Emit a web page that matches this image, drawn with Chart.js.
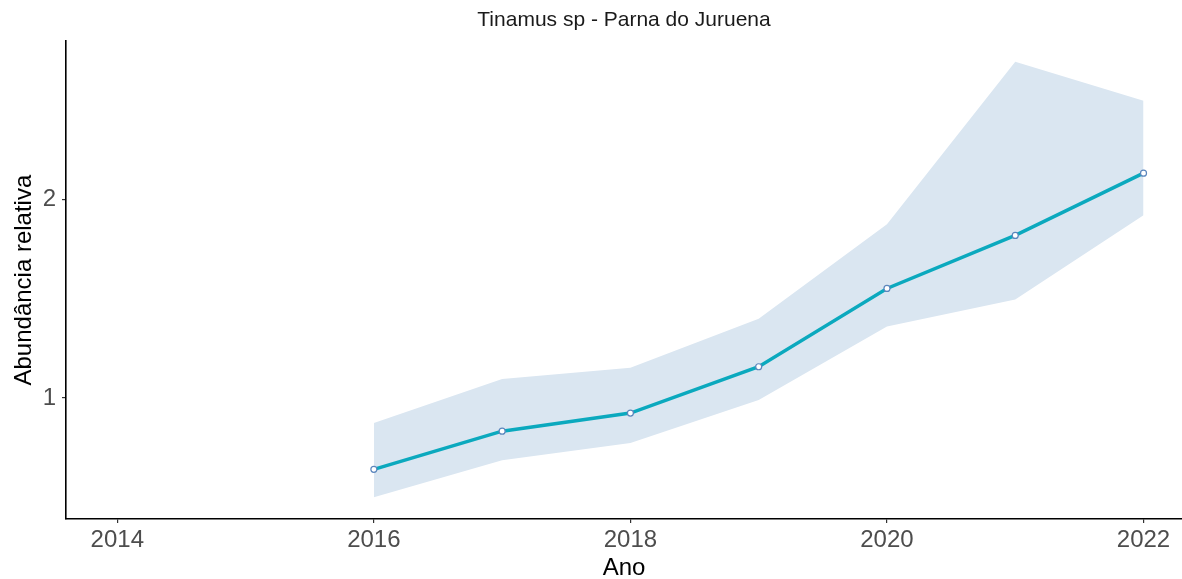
<!DOCTYPE html>
<html>
<head>
<meta charset="utf-8">
<script src="https://cdn.jsdelivr.net/npm/chart.js@4"></script>
<style>
  body { margin: 0; background: #fff; }
  #wrap { width: 1182px; height: 579px; }
</style>
</head>
<body>
<div id="wrap"><canvas id="myChart"></canvas></div>
<script>
const years = [2016, 2017, 2018, 2019, 2020, 2021, 2022];
const abundance = [0.641, 0.833, 0.924, 1.157, 1.551, 1.818, 2.131];
const upper = [0.874, 1.096, 1.152, 1.399, 1.874, 2.692, 2.495];
const lower = [0.500, 0.687, 0.773, 0.990, 1.359, 1.495, 1.919];
const xTicks = [2014, 2016, 2018, 2020, 2022];
const yTicks = [1, 2];

const toPoints = (vals) => years.map((y, i) => ({ x: y, y: vals[i] }));

const ctx = document.querySelector('#myChart').getContext('2d');
const font = 'Liberation Sans, Arial, sans-serif';

let config = {
    type: 'line',
    data: {
        datasets: [
            {
                label: 'lower',
                data: toPoints(lower),
                borderWidth: 0,
                pointRadius: 0,
                fill: false,
                order: 2
            },
            {
                label: 'upper',
                data: toPoints(upper),
                borderWidth: 0,
                pointRadius: 0,
                backgroundColor: '#dae6f1',
                fill: '-1',
                order: 2
            },
            {
                label: 'Abundância relativa',
                data: toPoints(abundance),
                borderColor: '#0ba9be',
                borderWidth: 3.5,
                pointRadius: 3,
                pointBorderWidth: 1.2,
                pointBackgroundColor: '#ffffff',
                pointBorderColor: '#5b86bd',
                fill: false,
                clip: false,
                order: 0
            }
        ]
    },
    options: {
        responsive: true,
        maintainAspectRatio: false,
        animation: false,
        layout: { padding: 0, autoPadding: false },
        plugins: {
            legend: { display: false },
            tooltip: { enabled: false },
            title: {
                display: true,
                text: 'Tinamus sp - Parna do Juruena',
                fullSize: false,
                color: '#1a1a1a',
                font: { family: font, size: 21, weight: 'normal' },
                padding: { top: 8, bottom: 8 }
            }
        },
        scales: {
            x: {
                type: 'linear',
                min: 2013.6,
                max: 2022.3,
                afterBuildTicks: (scale) => { scale.ticks = xTicks.map(v => ({ value: v })); },
                afterFit: (scale) => {
                    scale.height = 60;
                    scale.paddingLeft = 0;
                    scale.paddingRight = 0;
                },
                border: { display: true, color: '#000', width: 1.6 },
                grid: { drawOnChartArea: false, drawTicks: true, tickLength: 4, color: '#333', lineWidth: 1.2 },
                ticks: {
                    color: '#4d4d4d',
                    font: { family: font, size: 24 },
                    padding: 3,
                    maxRotation: 0,
                    callback: (v) => String(v)
                },
                title: {
                    display: true,
                    text: 'Ano',
                    color: '#000',
                    font: { family: font, size: 24 },
                    padding: { top: 0, bottom: -4 }
                }
            },
            y: {
                type: 'linear',
                min: 0.391,
                max: 2.795,
                afterBuildTicks: (scale) => { scale.ticks = yTicks.map(v => ({ value: v })); },
                afterFit: (scale) => {
                    scale.width = 66;
                    scale.paddingTop = 0;
                    scale.paddingBottom = 0;
                },
                border: { display: true, color: '#000', width: 1.6 },
                grid: { drawOnChartArea: false, drawTicks: true, tickLength: 4, color: '#333', lineWidth: 1.2 },
                ticks: {
                    color: '#4d4d4d',
                    font: { family: font, size: 24 },
                    padding: 6,
                    callback: (v) => String(v)
                },
                title: {
                    display: true,
                    text: 'Abundância relativa',
                    color: '#000',
                    font: { family: font, size: 24 },
                    padding: { top: 10, bottom: 0 }
                }
            }
        }
    }
};

window.chart = new Chart(ctx, config);
</script>
</body>
</html>
